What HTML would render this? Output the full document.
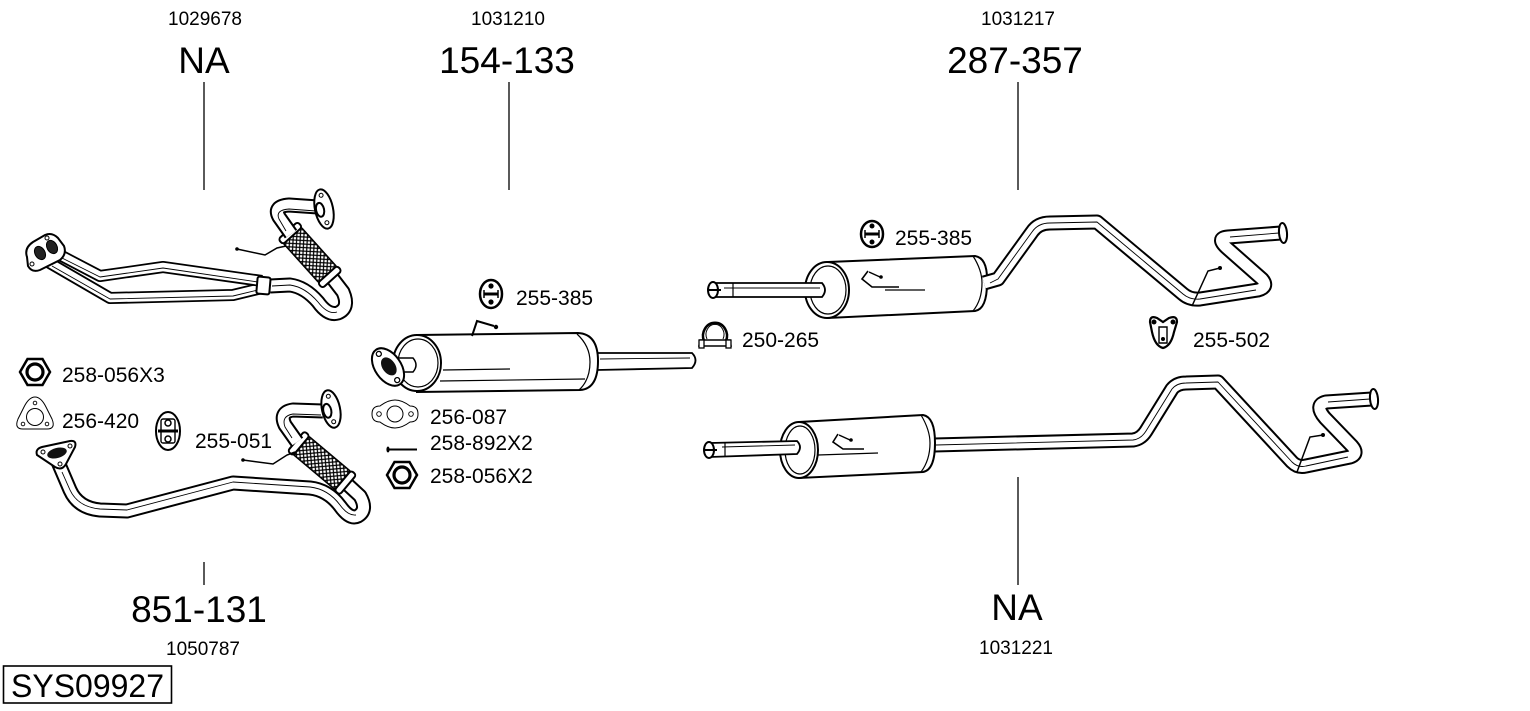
<!DOCTYPE html>
<html><head><meta charset="utf-8">
<style>
html,body{margin:0;padding:0;background:#fff;}
svg{display:block;}
text{font-family:"Liberation Sans",Arial,sans-serif;fill:#000;}
.po{fill:none;stroke:#000;stroke-width:15;stroke-linejoin:round;stroke-linecap:butt}
.pi{fill:none;stroke:#fff;stroke-width:11;stroke-linejoin:round;stroke-linecap:butt}
.po2{fill:none;stroke:#000;stroke-width:12;stroke-linejoin:round;stroke-linecap:butt}
.pi2{fill:none;stroke:#fff;stroke-width:8.5;stroke-linejoin:round;stroke-linecap:butt}
.ph{fill:none;stroke:#000;stroke-width:0.9;stroke-linejoin:round}
.w{fill:#fff;stroke:#000;stroke-width:2}
.t{fill:none;stroke:#000;stroke-width:1.2}
</style></head><body>
<svg width="1530" height="711" viewBox="0 0 1530 711" xmlns="http://www.w3.org/2000/svg">
<defs>
<pattern id="hatch" width="5" height="5" patternUnits="userSpaceOnUse">
<rect width="5" height="5" fill="#fff"/>
<path d="M-1,-1 L6,6 M6,-1 L-1,6" stroke="#000" stroke-width="1.2"/>
</pattern>
</defs>

<!-- headings -->
<g font-size="19" text-anchor="middle">
<text x="205" y="25">1029678</text>
<text x="508" y="25">1031210</text>
<text x="1018" y="25">1031217</text>
<text x="203" y="655">1050787</text>
<text x="1016" y="654">1031221</text>
</g>
<g font-size="37" text-anchor="middle">
<text x="204" y="73">NA</text>
<text x="507" y="73">154-133</text>
<text x="1015" y="73">287-357</text>
<text x="199" y="622">851-131</text>
<text x="1017" y="620">NA</text>
</g>
<g stroke="#000" stroke-width="1.3">
<line x1="204" y1="82" x2="204" y2="190"/>
<line x1="509" y1="82" x2="509" y2="190"/>
<line x1="1018" y1="82" x2="1018" y2="190"/>
<line x1="204" y1="562" x2="204" y2="585"/>
<line x1="1018" y1="477" x2="1018" y2="585"/>
</g>
<rect x="3.5" y="666" width="168" height="37" fill="none" stroke="#000" stroke-width="1.6"/>
<text x="11" y="697" font-size="32">SYS09927</text>

<!-- part labels -->
<g font-size="21">
<text x="62" y="382">258-056X3</text>
<text x="62" y="428">256-420</text>
<text x="195" y="448">255-051</text>
<text x="516" y="305">255-385</text>
<text x="430" y="424">256-087</text>
<text x="430" y="450">258-892X2</text>
<text x="430" y="483">258-056X2</text>
<text x="895" y="245">255-385</text>
<text x="742" y="347">250-265</text>
<text x="1193" y="347">255-502</text>
</g>

<!-- ===== PART 1 top-left ===== -->
<g>
<path class="po2" d="M48,262 L110,298 L233,295 L262,288"/>
<path class="pi2" d="M48,262 L110,298 L233,295 L262,288"/>
<path class="ph" transform="translate(0,2)" d="M52,264 L110,297 L233,294 L258,288"/>
<path class="po2" d="M58,254 L100,276 L163,267 L262,281"/>
<path class="pi2" d="M58,254 L100,276 L163,267 L262,281"/>
<path class="ph" transform="translate(0,2)" d="M62,256 L100,275 L163,266 L258,280"/>
<path class="po" d="M270,286 L290,285 Q305,287 318,302 Q328,316 338,313 Q350,308 343,292 L333,279"/>
<path class="pi" d="M270,286 L290,285 Q305,287 318,302 Q328,316 338,313 Q350,308 343,292 L333,279"/>
<path class="ph" transform="translate(0,2)" d="M272,284 L290,283 Q305,285 318,300 Q328,313 337,310"/>
<rect x="257" y="277" width="13" height="17" rx="2" class="w" stroke-width="1.5" transform="rotate(5 263 285)"/>
<g transform="translate(310,255) rotate(48)">
<rect x="-28" y="-12" width="56" height="24" rx="3" fill="url(#hatch)" stroke="#000" stroke-width="1.5"/>
<rect x="-33" y="-13" width="7" height="26" rx="3" class="w" stroke-width="1.5"/>
<rect x="26" y="-13" width="7" height="26" rx="3" class="w" stroke-width="1.5"/>
</g>
<path class="po" d="M291,234 L279,217 Q273,206 289,205 L318,207"/>
<path class="pi" d="M291,234 L279,217 Q273,206 289,205 L318,207"/>
<path class="ph" transform="translate(0,2)" d="M286,229 L279,217 Q275,208 289,207 L316,209"/>
<g transform="rotate(-12 324 209)">
<ellipse cx="324" cy="209" rx="9" ry="20" class="w" stroke-width="1.8"/>
<circle cx="324" cy="195" r="2" fill="#fff" stroke="#000" stroke-width="1"/>
<circle cx="324" cy="223" r="2" fill="#fff" stroke="#000" stroke-width="1"/>
<ellipse cx="320" cy="209" rx="4" ry="7" class="w" stroke-width="1.3"/>
</g>
<path d="M27,257 Q24,248 33,242 L45,235 Q52,232 58,238 L64,246 Q67,254 60,260 L40,270 Q32,273 28,266 Z" class="w" stroke-width="2"/>
<ellipse cx="40" cy="253" rx="5" ry="7" fill="#222" stroke="#000" transform="rotate(-30 40 253)"/>
<ellipse cx="52" cy="247" rx="5" ry="7" fill="#222" stroke="#000" transform="rotate(-30 52 247)"/>
<circle cx="32" cy="264" r="2" fill="#fff" stroke="#000"/>
<circle cx="47" cy="238" r="2" fill="#fff" stroke="#000"/>
<path d="M237,249 L265,255 L277,248 L286,246" fill="none" stroke="#000" stroke-width="1.5"/>
<circle cx="237" cy="249" r="1.8"/>
</g>

<!-- ===== PART 2 bottom-left ===== -->
<g>
<path class="po" d="M58,462 L70,490 Q78,508 100,510 L127,511 L233,483 L310,488 Q328,490 340,506 Q350,520 358,516 Q368,510 360,496 L347,484"/>
<path class="pi" d="M58,462 L70,490 Q78,508 100,510 L127,511 L233,483 L310,488 Q328,490 340,506 Q350,520 358,516 Q368,510 360,496 L347,484"/>
<path class="ph" transform="translate(0,2)" d="M62,470 L70,488 Q78,505 100,507 L127,508 L233,480 L310,485 Q328,487 340,503 Q348,514 356,513"/>
<g transform="translate(322,463) rotate(40)">
<rect x="-29" y="-12" width="58" height="24" rx="3" fill="url(#hatch)" stroke="#000" stroke-width="1.5"/>
<rect x="-34" y="-13" width="7" height="26" rx="3" class="w" stroke-width="1.5"/>
<rect x="27" y="-13" width="7" height="26" rx="3" class="w" stroke-width="1.5"/>
</g>
<path class="po" d="M297,442 L285,425 Q279,412 293,410 L323,411"/>
<path class="pi" d="M297,442 L285,425 Q279,412 293,410 L323,411"/>
<path class="ph" transform="translate(0,2)" d="M292,436 L285,425 Q281,414 293,412 L321,413"/>
<g transform="rotate(-12 331 409)">
<ellipse cx="331" cy="409" rx="9" ry="19" class="w" stroke-width="1.8"/>
<circle cx="331" cy="396" r="2" fill="#fff" stroke="#000" stroke-width="1"/>
<circle cx="331" cy="422" r="2" fill="#fff" stroke="#000" stroke-width="1"/>
<ellipse cx="327" cy="410" rx="4" ry="7" class="w" stroke-width="1.3"/>
</g>
<path d="M37,455 Q35,449 42,447 L70,441 Q77,440 75,447 L66,464 Q62,471 55,467 Z" class="w" stroke-width="2"/>
<ellipse cx="57" cy="453" rx="10" ry="5" fill="#111" transform="rotate(-15 57 453)"/>
<circle cx="43" cy="452" r="2" fill="#fff" stroke="#000"/>
<circle cx="70" cy="446" r="2" fill="#fff" stroke="#000"/>
<circle cx="60" cy="464" r="2" fill="#fff" stroke="#000"/>
<path d="M243,460 L273,464 L287,455 L295,452" fill="none" stroke="#000" stroke-width="1.5"/>
<circle cx="243" cy="460" r="1.8"/>
</g>

<!-- left icons -->
<g>
<polygon points="50,372 42.5,385 27.5,385 20,372 27.5,359 42.5,359" fill="#fff" stroke="#000" stroke-width="2.5"/>
<circle cx="35" cy="372" r="8" fill="#fff" stroke="#000" stroke-width="3.2"/>
<path d="M35,397 Q41,397 46,407 L52,419 Q56,429 47,429 L23,429 Q14,429 18,419 L24,407 Q29,397 35,397 Z" fill="#fff" stroke="#000" stroke-width="1"/>
<circle cx="35" cy="417" r="8.5" fill="#fff" stroke="#000" stroke-width="1"/>
<circle cx="35" cy="403" r="1.8" fill="#fff" stroke="#000" stroke-width="0.9"/>
<circle cx="23" cy="424" r="1.8" fill="#fff" stroke="#000" stroke-width="0.9"/>
<circle cx="47" cy="424" r="1.8" fill="#fff" stroke="#000" stroke-width="0.9"/>
<ellipse cx="168" cy="431" rx="12" ry="19" fill="#fff" stroke="#000" stroke-width="2"/>
<rect x="161" y="419" width="14" height="24" rx="2" fill="#fff" stroke="#000" stroke-width="1.4"/>
<circle cx="168" cy="423" r="3" fill="#fff" stroke="#000" stroke-width="1.5"/>
<circle cx="168" cy="439" r="3" fill="#fff" stroke="#000" stroke-width="1.5"/>
<line x1="158" y1="431" x2="178" y2="431" stroke="#000" stroke-width="3"/>
</g>

<!-- ===== PART 3 middle muffler ===== -->
<g>
<path d="M597,353 L692,353 Q699,360 692,368 L597,370 Z" fill="#fff" stroke="#000" stroke-width="1.8"/>
<path class="ph" d="M600,359 L690,358"/>
<path d="M417,335 L578,333 Q598,334 598,361 Q598,389 580,390 L417,392 Z" class="w"/>
<path d="M577,334 Q590,346 590,362 Q590,380 579,390" class="t"/>
<path d="M443,370 L510,369" class="t" stroke-width="1"/>
<path d="M440,381 L585,379" class="t"/>
<ellipse cx="417" cy="363" rx="24" ry="28" class="w"/>
<ellipse cx="418" cy="363" rx="20" ry="24" class="t"/>
<path d="M398,358 L413,358 Q419,365 413,372 L398,372 Z" fill="#fff" stroke="#000" stroke-width="1.5"/>
<g transform="rotate(-35 388 367)">
<ellipse cx="388" cy="367" rx="13" ry="21" class="w"/>
<ellipse cx="389" cy="367" rx="6.5" ry="10" fill="#111"/>
<circle cx="388" cy="351" r="2.5" fill="#fff" stroke="#000" stroke-width="1.3"/>
<circle cx="388" cy="383" r="2.5" fill="#fff" stroke="#000" stroke-width="1.3"/>
</g>
<path d="M472,336 L477,321 L494,326" fill="none" stroke="#000" stroke-width="2"/>
<circle cx="496" cy="327" r="2.2"/>
<!-- icons -->
<ellipse cx="491" cy="294" rx="11" ry="14" fill="#fff" stroke="#000" stroke-width="2.5"/>
<circle cx="491" cy="286" r="2.6"/>
<circle cx="491" cy="302" r="2.6"/>
<rect x="484" y="292.5" width="14" height="3" fill="#000"/>
<line x1="484" y1="290" x2="484" y2="298" stroke="#000" stroke-width="1.5"/>
<line x1="498" y1="290" x2="498" y2="298" stroke="#000" stroke-width="1.5"/>
<path d="M372,414 Q372,406 380,406 Q388,400 395,400 Q402,400 410,406 Q418,406 418,414 Q418,422 410,422 Q402,428 395,428 Q388,428 380,422 Q372,422 372,414 Z" fill="#fff" stroke="#000" stroke-width="1"/>
<circle cx="395" cy="414" r="8" fill="#fff" stroke="#000" stroke-width="1"/>
<circle cx="379" cy="414" r="2.3" fill="#fff" stroke="#000" stroke-width="0.9"/>
<circle cx="411" cy="414" r="2.3" fill="#fff" stroke="#000" stroke-width="0.9"/>
<line x1="389" y1="449.5" x2="417" y2="449.5" stroke="#000" stroke-width="2"/>
<ellipse cx="388" cy="449.5" rx="1.6" ry="3"/>
<polygon points="417,475 409.5,488 394.5,488 387,475 394.5,462 409.5,462" fill="#fff" stroke="#000" stroke-width="2.5"/>
<circle cx="402" cy="475" r="8" fill="#fff" stroke="#000" stroke-width="3.2"/>
</g>

<!-- ===== PART 4 top-right ===== -->
<g>
<path d="M828,262 L975,256 Q988,258 987,283 Q987,309 975,311 L828,318 Z" class="w"/>
<path d="M973,256 Q982,270 982,283 Q982,300 973,311" class="t"/>
<path d="M885,290 L925,290" class="t" stroke-width="1"/>
<path d="M868,271 L862,279 L872,287 L899,287" fill="none" stroke="#000" stroke-width="1.6"/>
<path d="M869,272 L880,277" fill="none" stroke="#000" stroke-width="1.4"/>
<circle cx="881" cy="277" r="1.8"/>
<ellipse cx="827" cy="290" rx="22" ry="28" class="w"/>
<ellipse cx="828" cy="290" rx="18" ry="24" class="t"/>
<path d="M712,283 L822,283 Q828,290 822,297 L712,297 Z" fill="#fff" stroke="#000" stroke-width="1.8"/>
<path class="ph" d="M724,288 L820,288"/>
<line x1="733" y1="283" x2="733" y2="297" stroke="#000" stroke-width="1.2"/>
<ellipse cx="713" cy="290" rx="5" ry="8" class="w" stroke-width="1.8"/>
<line x1="709" y1="290" x2="721" y2="290" stroke="#000" stroke-width="2"/>
<path class="po" d="M984,283 L998,279 L1032,232 Q1038,223 1050,223 L1097,222 L1183,294 Q1190,300 1200,299 L1258,290 Q1269,287 1262,279 L1228,249 Q1215,238 1228,237 L1281,233"/>
<path class="pi" d="M984,283 L998,279 L1032,232 Q1038,223 1050,223 L1097,222 L1183,294 Q1190,300 1200,299 L1258,290 Q1269,287 1262,279 L1228,249 Q1215,238 1228,237 L1281,233"/>
<path class="ph" transform="translate(0,2)" d="M990,281 L998,277 L1032,230 Q1038,221 1050,221 L1097,220 L1183,292 Q1190,298 1200,297 L1256,288 M1230,235 L1279,231"/>
<ellipse cx="1283" cy="233" rx="4" ry="10" class="w" stroke-width="1.8" transform="rotate(-5 1283 233)"/>
<path d="M1220,268 L1208,271 L1192,306" fill="none" stroke="#000" stroke-width="1.5"/>
<circle cx="1220" cy="268" r="2"/>
<!-- icons -->
<ellipse cx="872" cy="234" rx="11" ry="13" fill="#fff" stroke="#000" stroke-width="2.5"/>
<circle cx="872" cy="226" r="2.5"/>
<circle cx="872" cy="242" r="2.5"/>
<rect x="865" y="232.5" width="14" height="3" fill="#000"/>
<line x1="865" y1="230" x2="865" y2="238" stroke="#000" stroke-width="1.5"/>
<line x1="879" y1="230" x2="879" y2="238" stroke="#000" stroke-width="1.5"/>
<path d="M704,341 A12,13 0 1 1 726,341" fill="#fff" stroke="#000" stroke-width="2.5"/>
<path d="M707,339 A9,10 0 1 1 723,339" fill="none" stroke="#000" stroke-width="1"/>
<path d="M700,340 L730,340 L731,346 L699,346 Z" fill="#fff" stroke="#000" stroke-width="1.6"/>
<rect x="699" y="340" width="5" height="8" fill="#fff" stroke="#000" stroke-width="1.3"/>
<rect x="726" y="340" width="5" height="8" fill="#fff" stroke="#000" stroke-width="1.3"/>
<path d="M1150,322 Q1150,315 1157,318 L1163,322 L1169,318 Q1177,315 1177,322 L1174,332 Q1171,346 1163,348 Q1155,346 1152,332 Z" fill="#fff" stroke="#000" stroke-width="2.2"/>
<circle cx="1154" cy="322" r="2.5"/>
<circle cx="1173" cy="322" r="2.5"/>
<path d="M1159,327 L1167,327 L1167,343 L1159,343 Z" fill="#fff" stroke="#000" stroke-width="1.4"/>
<circle cx="1163" cy="339" r="2"/>
</g>

<!-- ===== PART 5 bottom-right ===== -->
<g>
<path class="po" d="M934,445 L1133,440 Q1141,439 1146,431 L1172,389 Q1177,383 1186,383 L1218,382 L1292,462 Q1298,468 1306,466 L1350,457 Q1359,454 1352,446 L1325,418 Q1314,405 1326,402 L1372,399"/>
<path class="pi" d="M934,445 L1133,440 Q1141,439 1146,431 L1172,389 Q1177,383 1186,383 L1218,382 L1292,462 Q1298,468 1306,466 L1350,457 Q1359,454 1352,446 L1325,418 Q1314,405 1326,402 L1372,399"/>
<path class="ph" transform="translate(0,2)" d="M936,443 L1133,438 Q1141,437 1146,429 L1172,387 Q1177,381 1186,381 L1218,380 L1292,460 Q1298,466 1306,464 L1348,455 M1328,400 L1370,397"/>
<ellipse cx="1374" cy="399" rx="4" ry="10" class="w" stroke-width="1.8" transform="rotate(-5 1374 399)"/>
<path d="M1323,435 L1310,437 L1297,472" fill="none" stroke="#000" stroke-width="1.5"/>
<circle cx="1323" cy="435" r="2"/>
<path d="M799,422 L923,415 Q935,417 935,443 Q935,470 923,472 L799,478 Z" class="w"/>
<path d="M921,415 Q930,430 930,443 Q930,460 921,472" class="t"/>
<path d="M818,455 L878,453" class="t" stroke-width="1"/>
<path d="M838,434 L833,442 L843,449 L864,449" fill="none" stroke="#000" stroke-width="1.6"/>
<path d="M839,435 L850,440" fill="none" stroke="#000" stroke-width="1.4"/>
<circle cx="851" cy="440" r="1.8"/>
<ellipse cx="799" cy="450" rx="19" ry="28" class="w"/>
<ellipse cx="800" cy="450" rx="15" ry="24" class="t"/>
<path d="M710,443 L797,441 Q803,447 797,454 L710,457 Z" fill="#fff" stroke="#000" stroke-width="1.8"/>
<path class="ph" d="M722,447 L795,445"/>
<line x1="725" y1="443" x2="725" y2="457" stroke="#000" stroke-width="1.2"/>
<ellipse cx="709" cy="450" rx="5" ry="8" class="w" stroke-width="1.8"/>
<line x1="705" y1="450" x2="717" y2="450" stroke="#000" stroke-width="2"/>
</g>
</svg>
</body></html>
